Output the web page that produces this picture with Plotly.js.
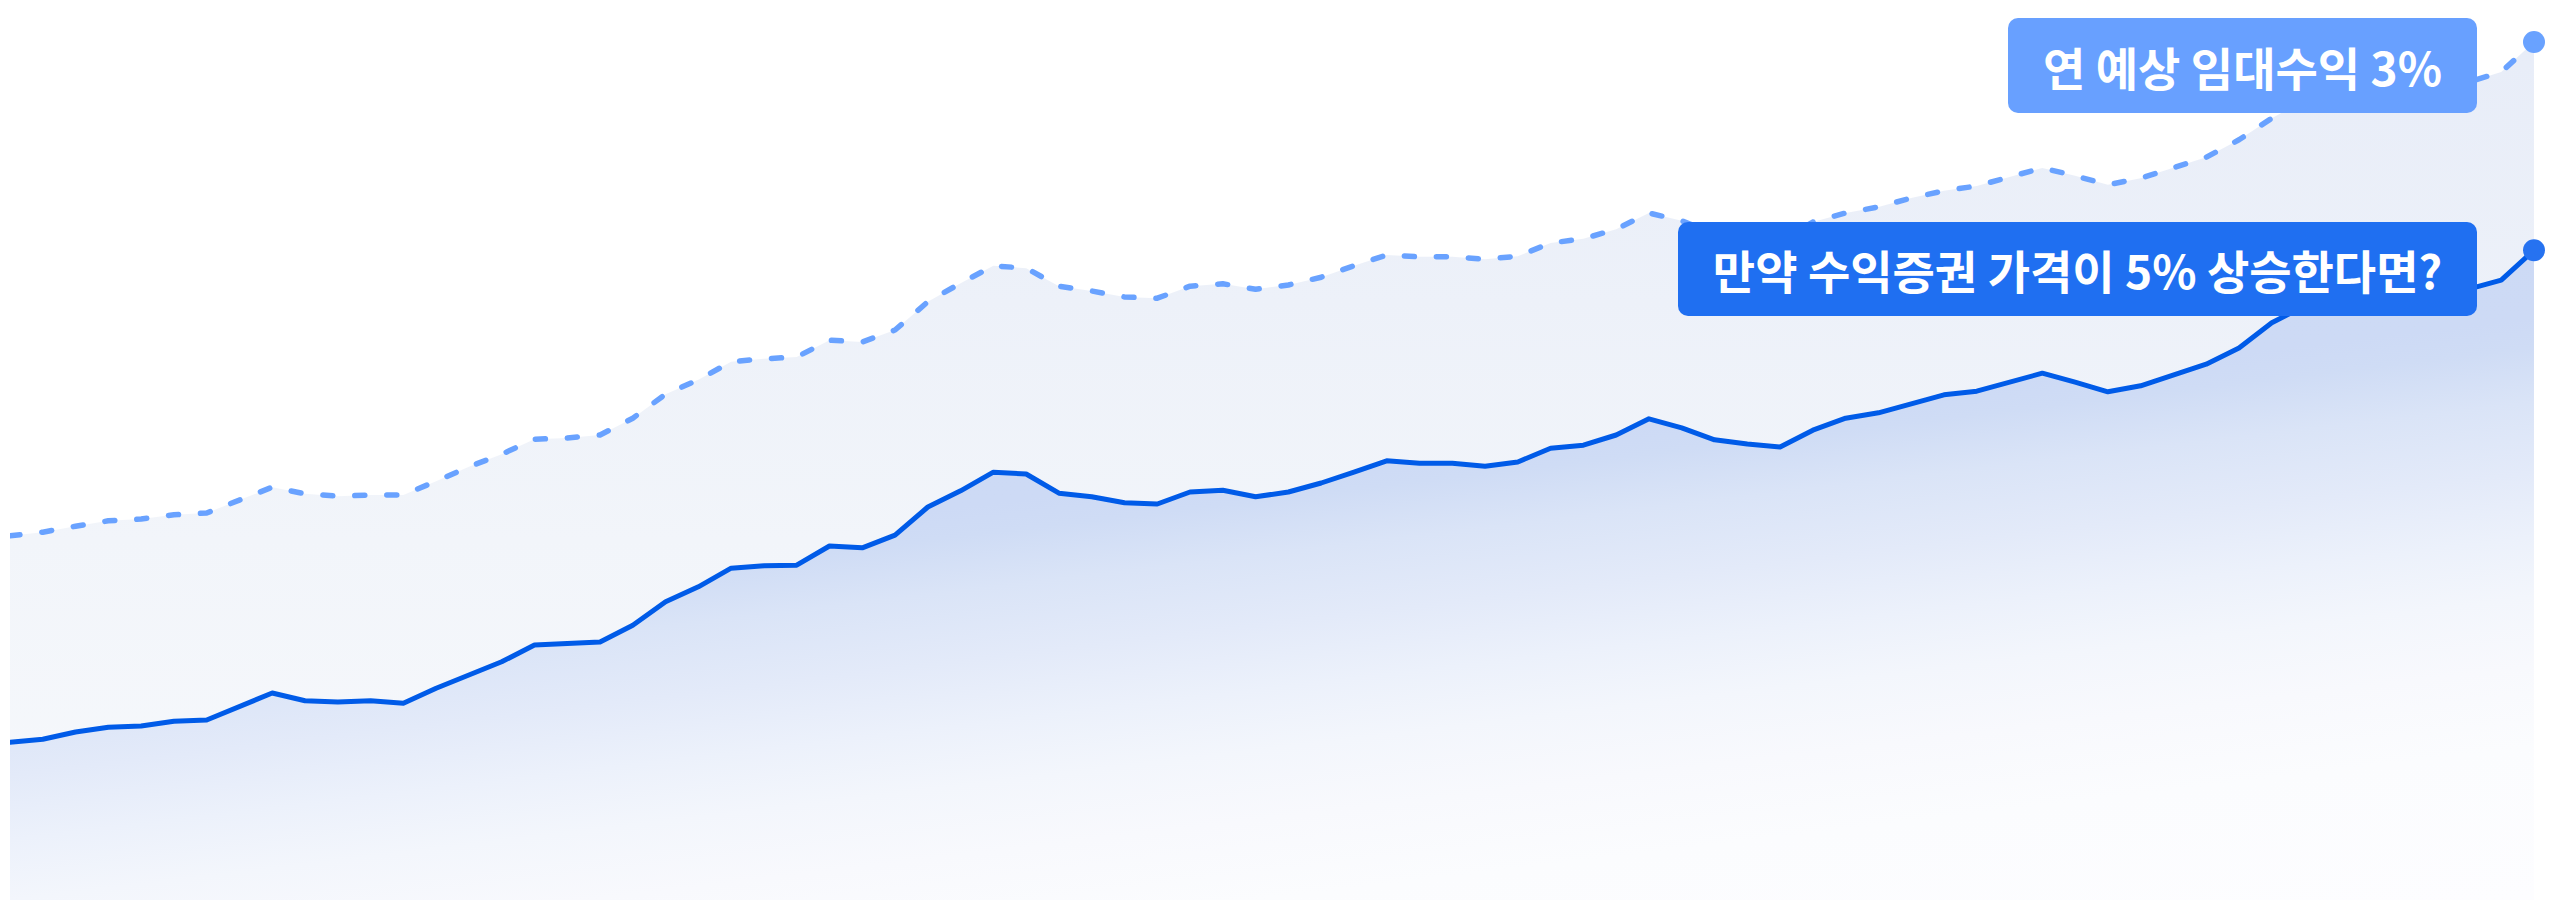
<!DOCTYPE html>
<html>
<head>
<meta charset="utf-8">
<script src="https://cdn.plot.ly/plotly-3.0.1.min.js"></script>
<style>
  html, body { margin: 0; padding: 0; background: #ffffff; }
  #chart { width: 2550px; height: 900px; }
  /* rounded caps on the lines, rounded corners on the label boxes */
  .scatterlayer .js-line { stroke-linecap: round; stroke-linejoin: round; }
  .annotation rect.bg { rx: 10px; ry: 10px; }
</style>
</head>
<body>
<div id="chart"></div>
<script>
// price index of the fund (solid line)
const priceIndex = [
  26.3, 26.8, 28.0, 28.8, 29.0, 29.8, 30.0, 32.2, 34.5, 33.2,
  33.0, 33.2, 32.8, 35.3, 37.5, 39.7, 42.5, 42.7, 43.0, 45.8,
  49.7, 52.2, 55.3, 55.7, 55.8, 59.0, 58.7, 60.8, 65.5, 68.2,
  71.3, 71.0, 67.8, 67.2, 66.2, 66.0, 68.0, 68.3, 67.2, 68.0,
  69.5, 71.3, 73.2, 72.8, 72.8, 72.3, 73.0, 75.3, 75.8, 77.5,
  80.2, 78.7, 76.7, 76.0, 75.5, 78.3, 80.3, 81.2, 82.8, 84.2,
  84.8, 86.3, 87.8, 86.3, 84.7, 85.7, 87.5, 89.3, 92.0, 96.2,
  99.0, 100.3, 100.7, 101.2, 101.5, 101.8, 103.3, 108.3
];

// price plus expected rental income (dashed line)
const withRentIndex = [
  60.7, 61.3, 62.3, 63.2, 63.5, 64.2, 64.5, 66.7, 68.8, 67.7,
  67.3, 67.5, 67.5, 69.8, 72.2, 74.3, 76.8, 77.0, 77.5, 80.3,
  84.3, 86.7, 89.7, 90.2, 90.5, 93.3, 93.0, 95.0, 99.7, 102.8,
  105.7, 105.3, 102.3, 101.5, 100.5, 100.3, 102.3, 102.7, 101.8, 102.5,
  103.8, 105.7, 107.5, 107.2, 107.2, 106.8, 107.3, 109.5, 110.2, 111.8,
  114.5, 113.2, 111.0, 110.3, 109.8, 113.0, 114.5, 115.5, 117.0, 118.2,
  119.0, 120.5, 122.0, 120.7, 119.2, 120.3, 122.0, 123.8, 126.7, 130.3,
  133.3, 134.7, 135.2, 135.5, 135.8, 136.3, 138.0, 143.0
];

const labelRent = '연 예상 임대수익 3%';
const labelPrice = '만약 수익증권 가격이 5% 상승한다면?';

const FONT = '"Noto Sans CJK KR", "Noto Sans", sans-serif';
const lastIdx = priceIndex.length - 1;

const traces = [
  {
    y: withRentIndex,
    type: 'scatter',
    mode: 'lines',
    uid: 'rent',
    line: { color: '#69a2ff', width: 5.5, dash: '10px,22px' },
    fill: 'tozeroy',
    fillgradient: {
      type: 'vertical', start: 0, stop: 150,
      colorscale: [[0, '#f7f9fc'], [0.4, '#f2f5fa'], [0.93, '#e8edf8'], [1, '#e6ecf8']]
    },
    hoverinfo: 'skip'
  },
  {
    y: priceIndex,
    type: 'scatter',
    mode: 'lines',
    uid: 'price',
    line: { color: '#005be8', width: 5 },
    fill: 'tozeroy',
    // starts below the axis so the tilted bands still fade out at the bottom right
    fillgradient: {
      type: 'vertical', start: -50, stop: 150,
      colorscale: [
        [0, '#fdfdff'], [0.125, '#fbfcfe'], [0.192, '#f8f9fd'], [0.25, '#f3f6fc'],
        [0.3, '#ecf1fb'], [0.354, '#e3eaf9'], [0.4125, '#dae4f7'], [0.458, '#cfdcf5'],
        [0.483, '#cddaf5'], [1, '#c9d8f4']
      ]
    },
    hoverinfo: 'skip'
  },
  // end dots
  {
    x: [lastIdx], y: [withRentIndex[lastIdx]],
    type: 'scatter', mode: 'markers', cliponaxis: false,
    marker: { color: '#69a2ff', size: 22 },
    hoverinfo: 'skip'
  },
  {
    x: [lastIdx], y: [priceIndex[lastIdx]],
    type: 'scatter', mode: 'markers', cliponaxis: false,
    marker: { color: '#2672f0', size: 22 },
    hoverinfo: 'skip'
  }
];

const layout = {
  width: 2550,
  height: 900,
  margin: { l: 10, r: 16, t: 0, b: 0 },
  paper_bgcolor: '#ffffff',
  plot_bgcolor: '#ffffff',
  showlegend: false,
  xaxis: { visible: false, range: [0, lastIdx], fixedrange: true },
  yaxis: { visible: false, range: [0, 150], fixedrange: true },
  font: { family: FONT },
  annotations: [
    {
      text: labelRent,
      xref: 'paper', yref: 'paper',
      x: 0.9774, y: 0.98, xanchor: 'right', yanchor: 'top',
      showarrow: false,
      bgcolor: '#68a0ff', borderwidth: 0, borderpad: 10,
      width: 449, height: 75,
      font: { family: FONT, size: 46, color: '#ffffff', weight: 700 }
    },
    {
      text: labelPrice,
      xref: 'paper', yref: 'paper',
      x: 0.9774, y: 1 - 222 / 900, xanchor: 'right', yanchor: 'top',
      showarrow: false,
      bgcolor: '#1f6ff1', borderwidth: 0, borderpad: 10,
      width: 779, height: 74,
      font: { family: FONT, size: 46, color: '#ffffff', weight: 700 }
    }
  ]
};

// lean the fill gradient so that its bands run roughly along the line
function tiltFill(uid, k) {
  const grad = document.querySelector('[id$="scatterfill-' + uid + '"]');
  if (!grad) return;
  const y1 = grad.getAttribute('y1'), y2 = grad.getAttribute('y2');
  if (!y1 || !y2 || y1.includes('%') || y2.includes('%')) return;
  const n = 1 + k * k;
  grad.setAttribute('x1', k * parseFloat(y1) / n);
  grad.setAttribute('y1', parseFloat(y1) / n);
  grad.setAttribute('x2', k * parseFloat(y2) / n);
  grad.setAttribute('y2', parseFloat(y2) / n);
}

Plotly.newPlot('chart', traces, layout, { staticPlot: true }).then(() => {
  tiltFill('price', 0.12);
});
</script>
</body>
</html>
